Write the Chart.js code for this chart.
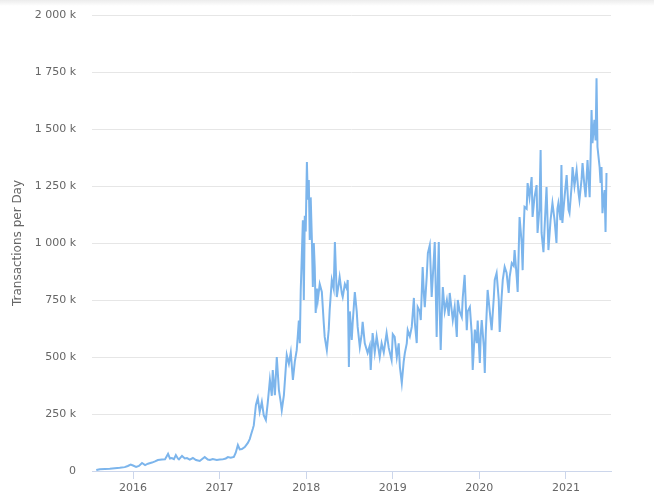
<!DOCTYPE html>
<html>
<head>
<meta charset="utf-8">
<script src="https://cdn.jsdelivr.net/npm/chart.js@4/dist/chart.umd.min.js"></script>
<style>
  html, body { margin: 0; padding: 0; background: #ffffff; }
  #wrap { position: relative; width: 654px; height: 503px; }
  #shade { position: absolute; left: 0; top: 0; width: 654px; height: 6px;
           background: linear-gradient(to bottom, #ececec, rgba(255,255,255,0)); pointer-events: none; }
  canvas { display: block; }
</style>
</head>
<body>
<div id="wrap">
  <canvas id="c" width="654" height="503"></canvas>
  <div id="shade"></div>
</div>
<script>
// Dates of the sampled days
const dates = [
"2015-07-30","2015-08-14","2015-09-04","2015-09-25","2015-10-16","2015-11-06","2015-11-27","2015-12-10","2015-12-22",
"2016-01-01","2016-01-14","2016-01-26","2016-02-08","2016-02-21","2016-03-04","2016-03-21","2016-04-03","2016-04-15",
"2016-05-02","2016-05-15","2016-05-28","2016-06-05","2016-06-13","2016-06-22","2016-06-30","2016-07-09","2016-07-13",
"2016-07-26","2016-08-07","2016-08-16","2016-08-28","2016-09-10","2016-09-23","2016-10-09","2016-10-22","2016-10-30",
"2016-11-12","2016-11-21","2016-12-03","2016-12-20",
"2017-01-02","2017-01-14","2017-01-27","2017-02-05","2017-02-17","2017-03-02","2017-03-10","2017-03-19","2017-03-27",
"2017-04-05","2017-04-17","2017-04-30","2017-05-08","2017-05-13","2017-05-21","2017-05-25","2017-06-03","2017-06-11",
"2017-06-19","2017-06-28","2017-07-06","2017-07-15","2017-07-23","2017-08-01","2017-08-09","2017-08-13","2017-08-22",
"2017-08-30","2017-09-08","2017-09-16","2017-09-20","2017-09-29","2017-10-07","2017-10-11","2017-10-20","2017-10-28",
"2017-11-06","2017-11-14","2017-11-22","2017-11-27","2017-12-01","2017-12-05","2017-12-09","2017-12-13","2017-12-18",
"2017-12-22","2017-12-26","2017-12-30",
"2018-01-04","2018-01-08","2018-01-12","2018-01-16","2018-01-20","2018-01-25","2018-01-29","2018-02-02","2018-02-06",
"2018-02-10","2018-02-15","2018-02-19","2018-02-27","2018-03-08","2018-03-16","2018-03-20","2018-03-29","2018-04-06",
"2018-04-10","2018-04-19","2018-04-27","2018-05-02","2018-05-10","2018-05-18","2018-05-22","2018-05-31","2018-06-04",
"2018-06-13","2018-06-21","2018-06-25","2018-06-30","2018-07-04","2018-07-12","2018-07-16","2018-07-25","2018-08-02",
"2018-08-06","2018-08-15","2018-08-23","2018-08-27","2018-09-05","2018-09-17","2018-09-26","2018-09-30","2018-10-08",
"2018-10-17","2018-10-25","2018-11-07","2018-11-15","2018-11-24","2018-12-06","2018-12-15","2018-12-27",
"2019-01-01","2019-01-09","2019-01-18","2019-01-26","2019-01-31","2019-02-08","2019-02-16","2019-02-21","2019-03-01",
"2019-03-05","2019-03-14","2019-03-22","2019-03-31","2019-04-04","2019-04-12","2019-04-16","2019-04-25","2019-04-29",
"2019-05-07","2019-05-12","2019-05-16","2019-05-24","2019-05-29","2019-06-06","2019-06-10","2019-06-14","2019-06-23",
"2019-06-27","2019-07-01","2019-07-05","2019-07-10","2019-07-14","2019-07-18","2019-07-22","2019-07-27","2019-07-31",
"2019-08-08","2019-08-17","2019-08-25","2019-08-29","2019-09-07","2019-09-11","2019-09-19","2019-09-28","2019-10-02",
"2019-10-10","2019-10-19","2019-10-23","2019-10-31","2019-11-09","2019-11-13","2019-11-22","2019-11-30","2019-12-04",
"2019-12-13","2019-12-21","2019-12-25",
"2020-01-03","2020-01-07","2020-01-11","2020-01-20","2020-01-24","2020-01-28","2020-02-05","2020-02-14","2020-02-22",
"2020-03-02","2020-03-06","2020-03-14","2020-03-23","2020-03-27","2020-04-04","2020-04-09","2020-04-17","2020-04-25",
"2020-05-04","2020-05-08","2020-05-17","2020-05-25","2020-05-29","2020-06-07","2020-06-11","2020-06-15","2020-06-19",
"2020-06-28","2020-07-02","2020-07-06","2020-07-10","2020-07-19","2020-07-23","2020-07-31","2020-08-09","2020-08-13",
"2020-08-21","2020-08-30","2020-09-03","2020-09-11","2020-09-16","2020-09-20","2020-09-28","2020-10-02","2020-10-11",
"2020-10-19","2020-10-28","2020-11-05","2020-11-14","2020-11-22","2020-11-26","2020-11-30","2020-12-09","2020-12-13",
"2020-12-17","2020-12-26",
"2021-01-04","2021-01-12","2021-01-16","2021-01-25","2021-01-29","2021-02-06","2021-02-15","2021-02-23","2021-02-27",
"2021-03-08","2021-03-12","2021-03-20","2021-03-25","2021-04-02","2021-04-11","2021-04-15","2021-04-19","2021-04-23",
"2021-05-01","2021-05-06","2021-05-10","2021-05-14","2021-05-23","2021-05-27","2021-05-31","2021-06-04","2021-06-09",
"2021-06-13","2021-06-17","2021-06-21"
];
// Transactions per day, in thousands
const txPerDayK = [
4,8,9,10,12,14,17,22,28,
24,18,22,35,26,32,37,42,48,
50,51,75,55,57,52,70,54,51,
66,55,57,50,57,48,44,55,61,
50,48,52,48,
50,51,55,61,58,62,80,114,95,
96,105,123,140,158,185,200,290,320,
259,303,245,224,300,400,330,443,333,
500,355,300,267,333,452,509,470,520,
400,480,530,600,660,560,794,925,1100,
750,1120,1050,
1355,1190,1276,1013,1200,1013,807,1000,895,
693,800,750,820,785,650,588,530,620,
706,838,800,1004,763,820,851,780,763,
820,800,838,456,700,575,650,785,700,
632,544,600,654,560,518,550,443,605,
520,590,500,560,520,605,540,487,
600,588,500,560,456,386,480,518,560,
618,590,632,759,650,561,719,700,662,
895,780,719,850,956,991,880,763,930,
1004,800,588,850,1004,700,531,700,807,
700,750,680,781,700,662,720,588,750,
700,675,760,860,618,700,719,600,443,
620,561,660,
474,600,662,544,430,600,794,700,618,
760,838,868,750,610,760,838,895,870,
781,850,912,900,969,850,785,950,1114,
1000,881,1050,1158,1150,1263,1200,1289,1114,
1200,1254,1044,1150,1408,1044,960,1050,1245,
969,1100,1175,1100,1000,1150,1175,1100,1342,
1088,1200,
1298,1145,1131,1250,1333,1250,1320,1220,1188,
1280,1351,1250,1201,1364,1201,1380,1583,1438,
1540,1450,1723,1421,1333,1263,1333,1131,1200,
1232,1048,1307
];
const yearTicks = [2016, 2017, 2018, 2019, 2020, 2021];
const yTicksK = [0, 250, 500, 750, 1000, 1250, 1500, 1750, 2000];
const axisStart = "2015-07-12";
const axisEnd = "2021-07-10";

function toYear(s) {
  const p = s.split('-').map(Number);
  const start = Date.UTC(p[0], 0, 1), end = Date.UTC(p[0] + 1, 0, 1);
  return p[0] + (Date.UTC(p[0], p[1] - 1, p[2]) - start) / (end - start);
}
function fmtK(v) {
  if (v === 0) return '0';
  const s = String(Math.round(v));
  return s.replace(/\B(?=(\d{3})+(?!\d))/g, ' ') + ' k';
}

const points = dates.map((d, i) => ({ x: toYear(d), y: txPerDayK[i] }));
const FONT = "'DejaVu Sans', Verdana, sans-serif";

new Chart(document.getElementById('c'), {
  type: 'line',
  data: {
    datasets: [{
      label: 'Transactions per Day',
      data: points,
      borderColor: '#7cb5ec',
      borderWidth: 2,
      pointRadius: 0,
      tension: 0,
      fill: false
    }]
  },
  options: {
    responsive: false,
    animation: false,
    events: [],
    layout: { padding: { left: 0, right: 43, top: 15, bottom: 0 } },
    plugins: { legend: { display: false }, tooltip: { enabled: false }, title: { display: false } },
    scales: {
      x: {
        type: 'linear',
        min: toYear(axisStart),
        max: toYear(axisEnd),
        afterBuildTicks: s => { s.ticks = yearTicks.map(v => ({ value: v })); },
        afterFit: s => { s.height = 32; s.paddingLeft = 0; s.paddingRight = 0; },
        grid: { drawOnChartArea: false, drawTicks: true, tickLength: 8, color: '#ccd6eb', lineWidth: 1 },
        border: { color: '#ccd6eb', width: 1 },
        ticks: { color: '#666666', font: { family: FONT, size: 11 }, padding: 3, maxRotation: 0, autoSkip: false,
                 callback: v => String(v) }
      },
      y: {
        min: 0,
        max: 2000,
        afterBuildTicks: s => { s.ticks = yTicksK.map(v => ({ value: v })); },
        afterFit: s => { s.width = 92; s.paddingTop = 0; s.paddingBottom = 0; },
        grid: { color: '#e6e6e6', lineWidth: 1, drawTicks: false },
        border: { display: false },
        ticks: { color: '#666666', font: { family: FONT, size: 11 }, padding: 16, callback: v => fmtK(v) },
        title: { display: true, text: 'Transactions per Day', color: '#666666',
                 font: { family: FONT, size: 12 }, padding: { top: 11, bottom: 4 } }
      }
    }
  }
});
</script>
</body>
</html>
